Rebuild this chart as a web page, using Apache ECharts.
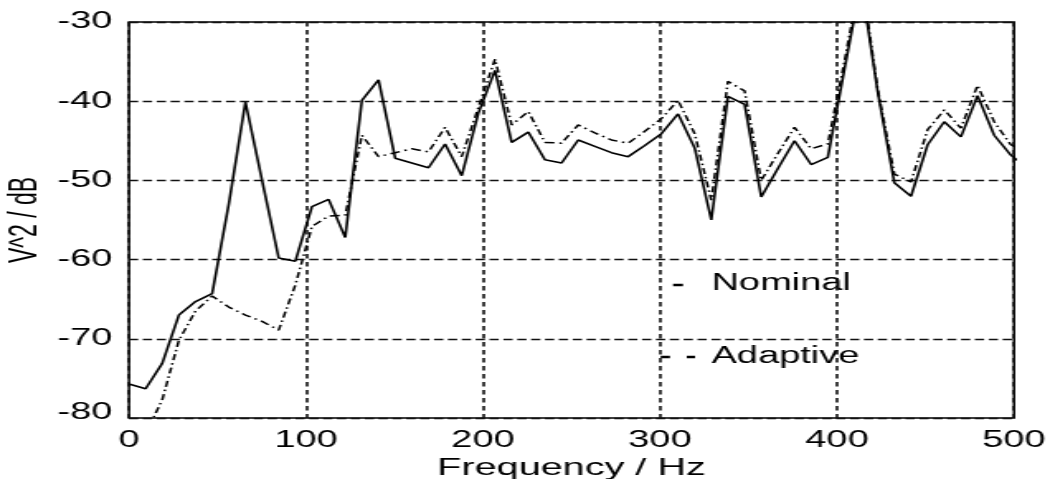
<!DOCTYPE html>
<html>
<head>
<meta charset="utf-8">
<script src="https://cdn.jsdelivr.net/npm/echarts@6/dist/echarts.min.js"></script>
<style>
  html, body { margin: 0; padding: 0; background: #fff; overflow: hidden; }
  /* chart is laid out narrow, then widened to the page width */
  #chart { width: 636px; height: 479px; transform: scaleX(1.6509); transform-origin: 0 0; }
</style>
</head>
<body>
<div id="chart"></div>
<script>
// Frequency bins (Hz)
const freqs = [0, 9.4, 18.8, 28.2, 37.6, 47.0, 56.4, 65.8, 75.2, 84.6,
  94.0, 103.4, 112.8, 122.2, 131.6, 141.0, 150.4, 159.8, 169.2, 178.6,
  188.0, 197.4, 206.8, 216.2, 225.6, 235.0, 244.4, 253.8, 263.2, 272.6,
  282.0, 291.4, 300.8, 310.2, 319.6, 329.0, 338.4, 347.8, 357.2, 366.6,
  376.0, 385.4, 394.8, 404.2, 413.6, 423.0, 432.4, 441.8, 451.2, 460.6,
  470.0, 479.4, 488.8, 498.2, 507.6];

// Power spectrum, V^2 in dB
const nominal = [-75.7, -76.3, -73.1, -67.0, -65.3, -64.3, -53.0, -40.1, -50.0, -59.8,
  -60.2, -53.3, -52.4, -57.2, -39.9, -37.3, -47.2, -47.8, -48.4, -45.4,
  -49.4, -41.5, -36.1, -45.2, -43.9, -47.4, -47.8, -44.9, -45.7, -46.5,
  -47.0, -45.6, -44.1, -41.6, -45.9, -55.0, -39.4, -40.4, -52.1, -48.5,
  -45.0, -48.0, -47.1, -36.0, -25.0, -38.8, -50.3, -52.0, -45.5, -42.6,
  -44.5, -39.3, -44.3, -46.8, -48.5];

const adaptive = [-84.0, -82.0, -77.7, -70.2, -66.5, -64.6, -66.0, -67.0, -67.8, -68.9,
  -63.2, -55.8, -54.5, -54.4, -44.3, -47.0, -46.5, -46.0, -46.4, -43.3,
  -47.0, -40.8, -34.7, -43.0, -41.3, -45.2, -45.3, -43.0, -44.0, -44.9,
  -45.3, -43.8, -42.2, -39.9, -44.1, -52.5, -37.5, -38.7, -50.0, -46.6,
  -43.3, -46.0, -45.4, -35.0, -24.0, -38.5, -49.2, -50.2, -43.6, -41.1,
  -43.4, -38.0, -42.6, -45.5, -46.5];

const xTicks = [0, 100, 200, 300, 400, 500];
const yTicks = [-80, -70, -60, -50, -40, -30];

const FONT = '"Liberation Sans", Arial, Helvetica, sans-serif';

const pairs = (ys) => freqs.map((f, i) => [f, ys[i]]);

const chart = echarts.init(document.getElementById('chart'), null, { renderer: 'canvas' });

chart.setOption({
  animation: false,
  backgroundColor: '#fff',
  grid: {
    left: 78.1, right: 21.8, top: 22, bottom: 61,
    outerBoundsMode: 'none',
    containLabel: false,
    show: true, borderColor: '#000', borderWidth: 1.5, backgroundColor: 'transparent'
  },
  xAxis: {
    type: 'value',
    min: xTicks[0], max: xTicks[xTicks.length - 1], interval: 100,
    name: 'Frequency / Hz',
    nameLocation: 'middle',
    nameGap: 38,
    nameMoveOverlap: false,
    nameTextStyle: { fontFamily: FONT, fontSize: 24, color: '#000' },
    axisLine: { show: false },
    axisTick: { show: false },
    axisLabel: { margin: 11, fontFamily: FONT, fontSize: 23, color: '#000' },
    splitLine: { show: true, lineStyle: { color: '#111', width: 1.6, type: [4.5, 3.5] } }
  },
  yAxis: {
    type: 'value',
    min: yTicks[0], max: yTicks[yTicks.length - 1], interval: 10,
    name: 'V^2 / dB',
    nameLocation: 'middle',
    nameGap: 51,
    nameRotate: 90,
    nameMoveOverlap: false,
    nameTextStyle: { fontFamily: FONT, fontSize: 23, color: '#000' },
    axisLine: { show: false },
    axisTick: { show: false },
    axisLabel: {
      margin: 10, fontFamily: FONT, fontSize: 23, color: '#000',
      formatter: (v) => v === yTicks[0] ? '{low|' + v + '}' : String(v),
      rich: { low: { fontFamily: FONT, fontSize: 23, color: '#000', padding: [0, 0, 10, 0] } }
    },
    splitLine: { show: true, lineStyle: { color: '#111', width: 1.3, type: [5.6, 2.8] } }
  },
  series: [
    {
      name: 'Nominal', type: 'line', data: pairs(nominal),
      showSymbol: false, symbol: 'none', clip: true,
      lineStyle: { color: '#000', width: 1.6, type: 'solid' }
    },
    {
      name: 'Adaptive', type: 'line', data: pairs(adaptive),
      showSymbol: false, symbol: 'none', clip: true,
      lineStyle: { color: '#000', width: 1.5, type: [6, 3, 1.5, 3] }
    }
  ],
  graphic: [
    { type: 'line', shape: { x1: 407.7, y1: 285, x2: 413.7, y2: 285 }, style: { stroke: '#000', lineWidth: 2.5 } },
    { type: 'text', x: 431, y: 283.5, style: { text: 'Nominal', fontFamily: FONT, fontSize: 23, fill: '#000', verticalAlign: 'middle', textAlign: 'left' } },
    { type: 'line', shape: { x1: 400.2, y1: 357, x2: 405.8, y2: 357 }, style: { stroke: '#000', lineWidth: 2.5 } },
    { type: 'line', shape: { x1: 416, y1: 357, x2: 421, y2: 357 }, style: { stroke: '#000', lineWidth: 2.5 } },
    { type: 'text', x: 431, y: 357, style: { text: 'Adaptive', fontFamily: FONT, fontSize: 23, fill: '#000', verticalAlign: 'middle', textAlign: 'left' } }
  ]
});
</script>
</body>
</html>
